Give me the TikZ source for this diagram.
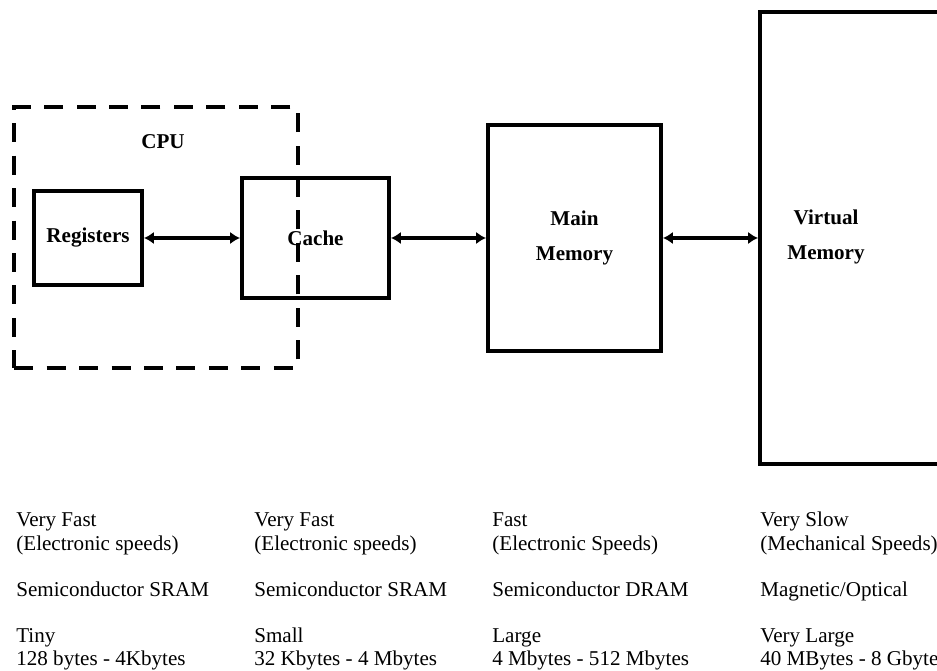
\documentclass[tikz,border=0pt]{standalone}
\usepackage{fontspec}
\setmainfont{Liberation Serif}
\usetikzlibrary{positioning, arrows.meta}

\begin{document}
\begin{tikzpicture}[
  x=0.02cm, y=-0.02cm,
  font=\fontsize{12}{13.2}\selectfont,
  unit/.style={draw=black, line width=0.08cm, font=\fontsize{12}{20.4}\selectfont\bfseries,
               align=center, inner sep=0pt},
  cpubox/.style={draw=black, line width=0.08cm, dash pattern=on 0.38cm off 0.27cm,
                 minimum width=5.68cm, minimum height=5.22cm},
  spec/.style={align=left, anchor=base west, inner sep=0pt},
  link/.style={{Latex[length=2mm,width=2.5mm]}-{Latex[length=2mm,width=2.5mm]}, line width=0.08cm}
]
\useasboundingbox (0,0) rectangle (937,671);
% hierarchy
\node[cpubox] (cpu) at (156,237.5) {};
\node[font=\fontsize{12}{14}\selectfont\bfseries] (cpulbl) at (163,142) {CPU};
\node[unit, minimum width=2.16cm, minimum height=1.88cm] (reg) at (88,238) {Registers};
\node[unit, minimum width=2.94cm, minimum height=2.4cm] (cache) at (315.5,238) {Cache};
\node[unit, minimum width=3.46cm, minimum height=4.52cm] (mm) at (574.5,238) {Main\\Memory};
\node[unit, minimum width=4.8cm, minimum height=9.04cm] (vm) at (880,238) {};
\node[font=\fontsize{12}{20.4}\selectfont\bfseries, align=center] (vmlbl) at (826,237) {Virtual\\Memory};
\foreach \x/\y in {reg/cache, cache/mm, mm/vm}{
  \draw[link] (\x.east) -- (\y.west);}
% properties
\node[spec] (s1) at (16,666)
  {Very Fast\\(Electronic speeds)\\[13.2pt]Semiconductor SRAM\\[13.2pt]Tiny\\128 bytes - 4Kbytes};
\node[spec] (s2) at (254,666)
  {Very Fast\\(Electronic speeds)\\[13.2pt]Semiconductor SRAM\\[13.2pt]Small\\32 Kbytes - 4 Mbytes};
\node[spec] (s3) at (492,666)
  {Fast\\(Electronic Speeds)\\[13.2pt]Semiconductor DRAM\\[13.2pt]Large\\4 Mbytes - 512 Mbytes};
\node[spec] (s4) at (760,666)
  {Very Slow\\(Mechanical Speeds)\\[13.2pt]Magnetic/Optical\\[13.2pt]Very Large\\40 MBytes - 8 Gbyte};
\end{tikzpicture}
\end{document}
